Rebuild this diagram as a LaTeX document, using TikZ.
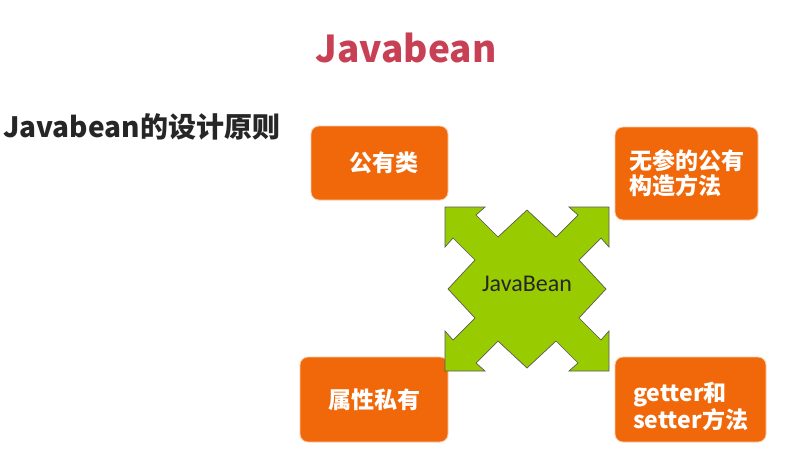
\documentclass[tikz,border=0pt]{standalone}
\usepackage{fontspec}
\setmainfont{Noto Sans CJK SC}
\newfontfamily\beanfont{Carlito}
\usepackage{xcolor}
\usepackage{tikz}
\usetikzlibrary{positioning}
\definecolor{ruleorange}{RGB}{241,104,10}
\definecolor{beangreen}{RGB}{153,204,0}
\definecolor{titlered}{RGB}{199,64,84}
\tikzset{
	rulebox/.style={rounded corners=8pt, fill=ruleorange, draw=ruleorange!35!white, line width=0.8pt,
		text=white, font=\bfseries\fontsize{23}{25}\selectfont, align=left, inner sep=0pt},
	beanarrow/.style={fill=beangreen, draw=black!65, line width=0.7pt, line join=miter}
}

\begin{document}
\begin{tikzpicture}[x=1pt, y=-1pt]
	\fill[white] (0, 0) rectangle (797, 463);
	\useasboundingbox (0, 0) rectangle (797, 463);

		% headings
		\node[text=titlered, font=\bfseries\fontsize{37}{40}\selectfont] (title) at (406, 48) {Javabean};
		\node[anchor=west, inner sep=0pt, text=black!85, font=\bfseries\fontsize{28}{30}\selectfont] (subtitle) at (3, 127) {Javabean的设计原则};

		% the four rules
		\node[rulebox, minimum width=137pt, minimum height=74pt] (pub) at (379.5, 163) {\hspace*{8pt}公有类};
		\node[rulebox, minimum width=143pt, minimum height=93pt] (ctor) at (686.5, 173.5) {无参的公有\\构造方法};
		\node[rulebox, minimum width=148pt, minimum height=85pt] (priv) at (374, 399.5) {属性私有};
		\node[rulebox, minimum width=151pt, minimum height=85pt] (getset) at (690.5, 399.5)
			{\raisebox{-9pt}[\height][\depth]{\fontsize{23}{23}\selectfont\begin{tabular}{@{}l@{}}getter和\\setter方法\end{tabular}}};

		% four way arrow in the middle
		\begin{scope}[shift={(527, 289)}]
		\draw[beanarrow] (0, 79) -- (-29, 52) -- (-51, 74) -- (-42, 82) -- (-82, 82) -- (-82, 42) -- (-74, 51) -- (-52, 29)
			-- (-79, 0) -- (-52, -29) -- (-74, -51) -- (-82, -42) -- (-82, -82) -- (-42, -82) -- (-51, -74) -- (-29, -52)
			-- (0, -79) -- (29, -52) -- (51, -74) -- (42, -82) -- (82, -82) -- (82, -42) -- (74, -51) -- (52, -29)
			-- (79, 0) -- (52, 29) -- (74, 51) -- (82, 42) -- (82, 82) -- (42, 82) -- (51, 74) -- (29, 52) -- cycle;
		\end{scope}
		\node[text=black!85, font=\beanfont\fontsize{24}{26}\selectfont] (bean) at (527, 284) {JavaBean};
\end{tikzpicture}
\end{document}
